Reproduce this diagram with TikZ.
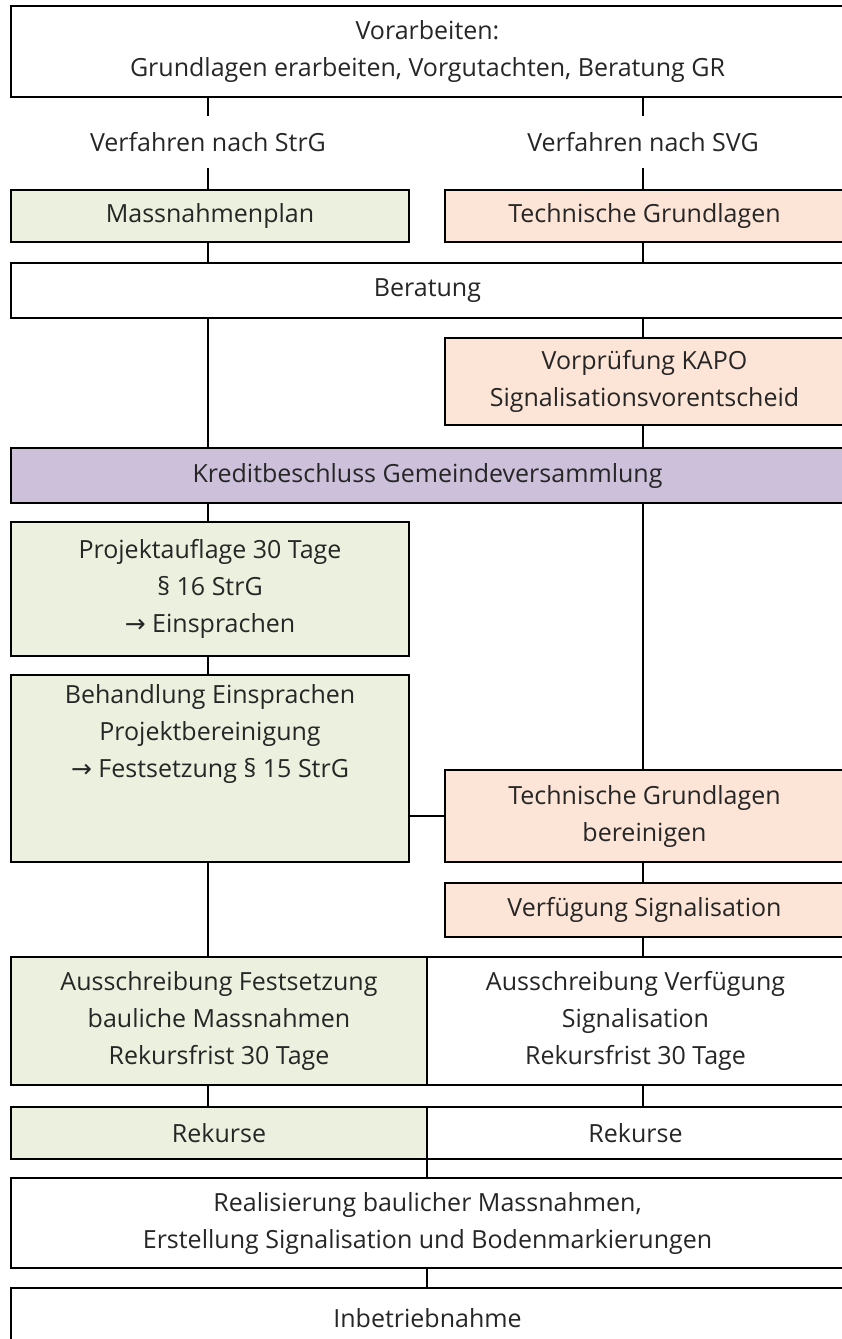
\documentclass[tikz,border=0pt]{standalone}
\usepackage{fontspec}
\setmainfont{Open Sans}
\newfontfamily\arrowfont{DejaVu Sans}
\usetikzlibrary{positioning, calc}
\definecolor{stepgreen}{HTML}{EBF1DE}
\definecolor{steporange}{HTML}{FCE4D6}
\definecolor{steppurple}{HTML}{CCC0DA}
\definecolor{stepborder}{HTML}{000000}
\definecolor{steptext}{HTML}{262626}
\newcommand{\rarr}{{\arrowfont →}}

\begin{document}
\begin{tikzpicture}[
      x=1pt, y=-1pt,
      box/.style={draw=stepborder, line width=2pt, fill=white, inner sep=0pt,
        align=center, text=steptext, font=\fontsize{25}{37}\selectfont},
      wide/.style={box, minimum width=833pt},
      half/.style={box, minimum width=398pt},
      halfr/.style={box, minimum width=399pt},
      col/.style={box, minimum width=416pt},
      lbl/.style={align=center, text=steptext, inner sep=0pt,
        minimum height=52pt, font=\fontsize{25}{37}\selectfont},
      link/.style={draw=stepborder, line width=2pt}
    ]
      \path[use as bounding box] (0,0) rectangle (842,1339);
      \clip (0,0) rectangle (842,1339);
      \coordinate (lcol) at (208,0);
      \coordinate (rcol) at (643,0);
      \coordinate (mcol) at (427,0);

      \node[wide, minimum height=91pt] (vorarbeiten) at (427.5,51.5)
        {Vorarbeiten:\\Grundlagen erarbeiten, Vorgutachten, Beratung GR};
      \node[lbl] (strg) at (208,142) {Verfahren nach StrG};
      \node[lbl] (svg) at (643,142) {Verfahren nach SVG};
      \node[half, fill=stepgreen, minimum height=52pt] (massplan) at (210,216)
        {Massnahmenplan};
      \node[halfr, fill=steporange, minimum height=52pt] (techgrund) at (644.5,216)
        {Technische Grundlagen};
      \node[wide, minimum height=55pt] (beratung) at (427.5,290.5) {Beratung};
      \node[halfr, fill=steporange, minimum height=87pt] (vorpruefung) at (644.5,381.5)
        {Vorprüfung KAPO\\Signalisationsvorentscheid};
      \node[wide, fill=steppurple, minimum height=55pt] (kredit) at (427.5,475.5)
        {Kreditbeschluss Gemeindeversammlung};
      \node[half, fill=stepgreen, minimum height=134pt] (auflage) at (210,589)
        {Projektauflage 30 Tage\\§ 16 StrG\\\rarr{} Einsprachen};
      \node[half, fill=stepgreen, minimum height=187pt] (behandlung) at (210,768.5) {};
      \node[align=center, text=steptext, inner sep=0pt, anchor=north,
        font=\fontsize{25}{37}\selectfont, below=10pt of behandlung.north] (behandlungtext)
        {Behandlung Einsprachen\\Projektbereinigung\\\rarr{} Festsetzung § 15 StrG};
      \node[halfr, fill=steporange, minimum height=92pt] (bereinigen) at (644.5,816)
        {Technische Grundlagen\\bereinigen};
      \node[halfr, fill=steporange, minimum height=54pt] (verfuegung) at (644.5,910)
        {Verfügung Signalisation};
      \node[col, fill=stepgreen, minimum height=128pt] (ausschrL) at (219,1021)
        {Ausschreibung Festsetzung\\bauliche Massnahmen\\Rekursfrist 30 Tage};
      \node[col, minimum width=417pt, minimum height=128pt] (ausschrR) at (635.5,1021)
        {Ausschreibung Verfügung\\Signalisation\\Rekursfrist 30 Tage};
      \node[col, fill=stepgreen, minimum height=52pt] (rekursL) at (219,1133) {Rekurse};
      \node[col, minimum width=417pt, minimum height=52pt] (rekursR) at (635.5,1133) {Rekurse};
      \node[wide, minimum height=90pt] (realisierung) at (427.5,1223)
        {Realisierung baulicher Massnahmen,\\Erstellung Signalisation und Bodenmarkierungen};
      \node[wide, minimum height=60pt] (inbetrieb) at (427.5,1318) {Inbetriebnahme};

      % left column
      \draw[link] (vorarbeiten.south -| lcol) -- (strg.north);
      \draw[link] (strg.south) -- (massplan.north -| lcol);
      \draw[link] (massplan.south -| lcol) -- (beratung.north -| lcol);
      \draw[link] (beratung.south -| lcol) -- (kredit.north -| lcol);
      \draw[link] (kredit.south -| lcol) -- (auflage.north -| lcol);
      \draw[link] (auflage.south -| lcol) -- (behandlung.north -| lcol);
      \draw[link] (behandlung.south -| lcol) -- (ausschrL.north -| lcol);
      \draw[link] (ausschrL.south -| lcol) -- (rekursL.north -| lcol);
      % right column
      \draw[link] (vorarbeiten.south -| rcol) -- (svg.north);
      \draw[link] (svg.south) -- (techgrund.north -| rcol);
      \draw[link] (techgrund.south -| rcol) -- (beratung.north -| rcol);
      \draw[link] (beratung.south -| rcol) -- (vorpruefung.north -| rcol);
      \draw[link] (vorpruefung.south -| rcol) -- (kredit.north -| rcol);
      \draw[link] (kredit.south -| rcol) -- (bereinigen.north -| rcol);
      \draw[link] (bereinigen.south -| rcol) -- (verfuegung.north -| rcol);
      \draw[link] (verfuegung.south -| rcol) -- (ausschrR.north -| rcol);
      \draw[link] (ausschrR.south -| rcol) -- (rekursR.north -| rcol);
      % cross link and bottom
      \draw[link] (behandlung.east |- bereinigen.west) -- (bereinigen.west);
      \draw[link] (rekursL.south east -| mcol) -- (realisierung.north -| mcol);
      \draw[link] (realisierung.south -| mcol) -- (inbetrieb.north -| mcol);
    \end{tikzpicture}
\end{document}
